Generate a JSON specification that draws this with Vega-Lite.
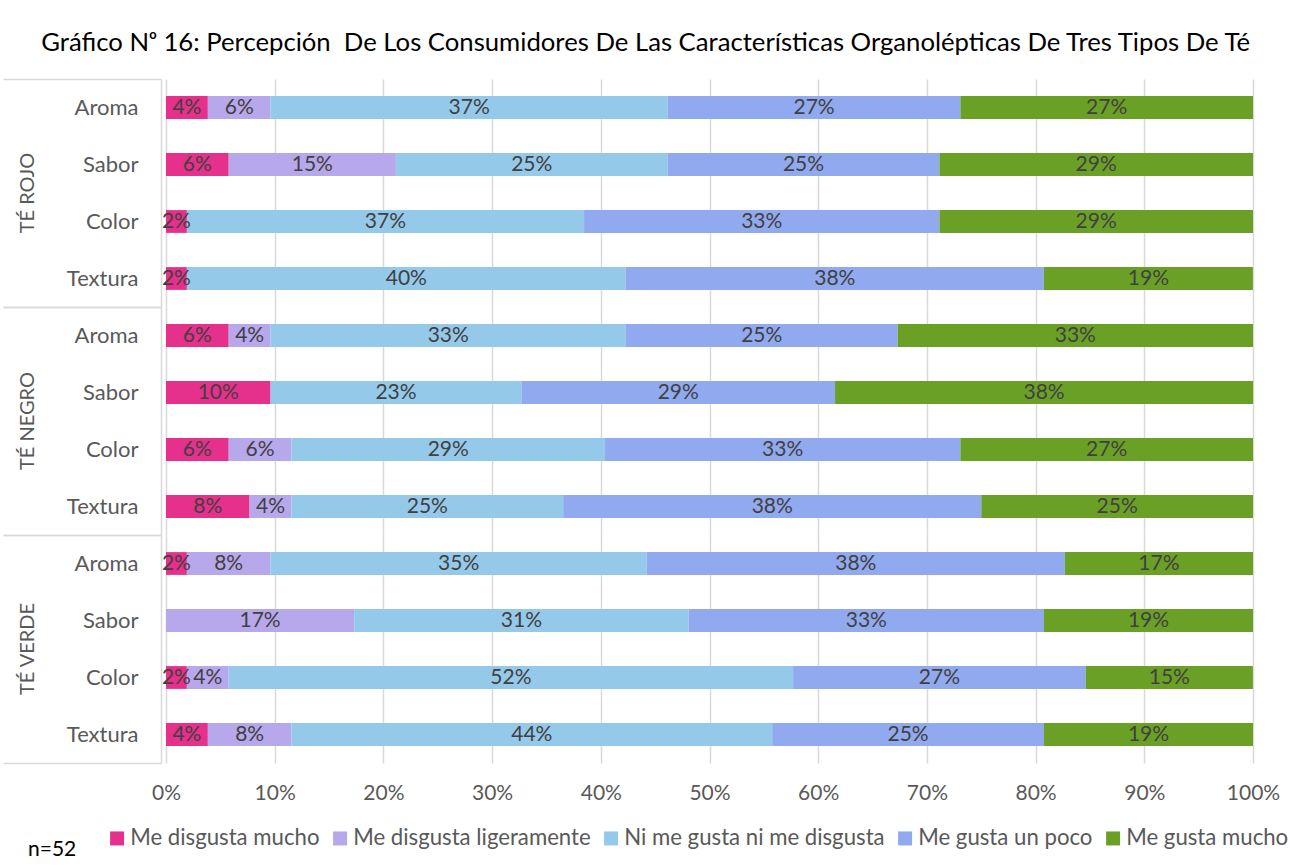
{
  "$schema": "https://vega.github.io/schema/vega-lite/v6.json",
  "background": "white",
  "padding": {"left": 2, "top": 30, "right": 2, "bottom": 2},
  "config": {"font": "Lato", "view": {"stroke": null}},
  "title": {
    "text": "Gráfico Nᵒ 16: Percepción\u00a0 De Los Consumidores De Las Características Organolépticas De Tres Tipos De Té",
    "fontSize": 25.7, "fontWeight": "normal", "color": "#000000", "anchor": "middle", "frame": "bounds", "offset": 11
  },
  "data": {"values": [
    {"t": "TÉ ROJO", "a": "Aroma", "r": "Me disgusta mucho", "o": 1, "p": 0.0385},
    {"t": "TÉ ROJO", "a": "Aroma", "r": "Me disgusta ligeramente", "o": 2, "p": 0.0577},
    {"t": "TÉ ROJO", "a": "Aroma", "r": "Ni me gusta ni me disgusta", "o": 3, "p": 0.3654},
    {"t": "TÉ ROJO", "a": "Aroma", "r": "Me gusta un poco", "o": 4, "p": 0.2692},
    {"t": "TÉ ROJO", "a": "Aroma", "r": "Me gusta mucho", "o": 5, "p": 0.2692},
    {"t": "TÉ ROJO", "a": "Sabor", "r": "Me disgusta mucho", "o": 1, "p": 0.0577},
    {"t": "TÉ ROJO", "a": "Sabor", "r": "Me disgusta ligeramente", "o": 2, "p": 0.1538},
    {"t": "TÉ ROJO", "a": "Sabor", "r": "Ni me gusta ni me disgusta", "o": 3, "p": 0.25},
    {"t": "TÉ ROJO", "a": "Sabor", "r": "Me gusta un poco", "o": 4, "p": 0.25},
    {"t": "TÉ ROJO", "a": "Sabor", "r": "Me gusta mucho", "o": 5, "p": 0.2885},
    {"t": "TÉ ROJO", "a": "Color", "r": "Me disgusta mucho", "o": 1, "p": 0.0192},
    {"t": "TÉ ROJO", "a": "Color", "r": "Ni me gusta ni me disgusta", "o": 3, "p": 0.3654},
    {"t": "TÉ ROJO", "a": "Color", "r": "Me gusta un poco", "o": 4, "p": 0.3269},
    {"t": "TÉ ROJO", "a": "Color", "r": "Me gusta mucho", "o": 5, "p": 0.2885},
    {"t": "TÉ ROJO", "a": "Textura", "r": "Me disgusta mucho", "o": 1, "p": 0.0192},
    {"t": "TÉ ROJO", "a": "Textura", "r": "Ni me gusta ni me disgusta", "o": 3, "p": 0.4038},
    {"t": "TÉ ROJO", "a": "Textura", "r": "Me gusta un poco", "o": 4, "p": 0.3846},
    {"t": "TÉ ROJO", "a": "Textura", "r": "Me gusta mucho", "o": 5, "p": 0.1923},
    {"t": "TÉ NEGRO", "a": "Aroma", "r": "Me disgusta mucho", "o": 1, "p": 0.0577},
    {"t": "TÉ NEGRO", "a": "Aroma", "r": "Me disgusta ligeramente", "o": 2, "p": 0.0385},
    {"t": "TÉ NEGRO", "a": "Aroma", "r": "Ni me gusta ni me disgusta", "o": 3, "p": 0.3269},
    {"t": "TÉ NEGRO", "a": "Aroma", "r": "Me gusta un poco", "o": 4, "p": 0.25},
    {"t": "TÉ NEGRO", "a": "Aroma", "r": "Me gusta mucho", "o": 5, "p": 0.3269},
    {"t": "TÉ NEGRO", "a": "Sabor", "r": "Me disgusta mucho", "o": 1, "p": 0.0962},
    {"t": "TÉ NEGRO", "a": "Sabor", "r": "Ni me gusta ni me disgusta", "o": 3, "p": 0.2308},
    {"t": "TÉ NEGRO", "a": "Sabor", "r": "Me gusta un poco", "o": 4, "p": 0.2885},
    {"t": "TÉ NEGRO", "a": "Sabor", "r": "Me gusta mucho", "o": 5, "p": 0.3846},
    {"t": "TÉ NEGRO", "a": "Color", "r": "Me disgusta mucho", "o": 1, "p": 0.0577},
    {"t": "TÉ NEGRO", "a": "Color", "r": "Me disgusta ligeramente", "o": 2, "p": 0.0577},
    {"t": "TÉ NEGRO", "a": "Color", "r": "Ni me gusta ni me disgusta", "o": 3, "p": 0.2885},
    {"t": "TÉ NEGRO", "a": "Color", "r": "Me gusta un poco", "o": 4, "p": 0.3269},
    {"t": "TÉ NEGRO", "a": "Color", "r": "Me gusta mucho", "o": 5, "p": 0.2692},
    {"t": "TÉ NEGRO", "a": "Textura", "r": "Me disgusta mucho", "o": 1, "p": 0.0769},
    {"t": "TÉ NEGRO", "a": "Textura", "r": "Me disgusta ligeramente", "o": 2, "p": 0.0385},
    {"t": "TÉ NEGRO", "a": "Textura", "r": "Ni me gusta ni me disgusta", "o": 3, "p": 0.25},
    {"t": "TÉ NEGRO", "a": "Textura", "r": "Me gusta un poco", "o": 4, "p": 0.3846},
    {"t": "TÉ NEGRO", "a": "Textura", "r": "Me gusta mucho", "o": 5, "p": 0.25},
    {"t": "TÉ VERDE", "a": "Aroma", "r": "Me disgusta mucho", "o": 1, "p": 0.0192},
    {"t": "TÉ VERDE", "a": "Aroma", "r": "Me disgusta ligeramente", "o": 2, "p": 0.0769},
    {"t": "TÉ VERDE", "a": "Aroma", "r": "Ni me gusta ni me disgusta", "o": 3, "p": 0.3462},
    {"t": "TÉ VERDE", "a": "Aroma", "r": "Me gusta un poco", "o": 4, "p": 0.3846},
    {"t": "TÉ VERDE", "a": "Aroma", "r": "Me gusta mucho", "o": 5, "p": 0.1731},
    {"t": "TÉ VERDE", "a": "Sabor", "r": "Me disgusta ligeramente", "o": 2, "p": 0.1731},
    {"t": "TÉ VERDE", "a": "Sabor", "r": "Ni me gusta ni me disgusta", "o": 3, "p": 0.3077},
    {"t": "TÉ VERDE", "a": "Sabor", "r": "Me gusta un poco", "o": 4, "p": 0.3269},
    {"t": "TÉ VERDE", "a": "Sabor", "r": "Me gusta mucho", "o": 5, "p": 0.1923},
    {"t": "TÉ VERDE", "a": "Color", "r": "Me disgusta mucho", "o": 1, "p": 0.0192},
    {"t": "TÉ VERDE", "a": "Color", "r": "Me disgusta ligeramente", "o": 2, "p": 0.0385},
    {"t": "TÉ VERDE", "a": "Color", "r": "Ni me gusta ni me disgusta", "o": 3, "p": 0.5192},
    {"t": "TÉ VERDE", "a": "Color", "r": "Me gusta un poco", "o": 4, "p": 0.2692},
    {"t": "TÉ VERDE", "a": "Color", "r": "Me gusta mucho", "o": 5, "p": 0.1538},
    {"t": "TÉ VERDE", "a": "Textura", "r": "Me disgusta mucho", "o": 1, "p": 0.0385},
    {"t": "TÉ VERDE", "a": "Textura", "r": "Me disgusta ligeramente", "o": 2, "p": 0.0769},
    {"t": "TÉ VERDE", "a": "Textura", "r": "Ni me gusta ni me disgusta", "o": 3, "p": 0.4423},
    {"t": "TÉ VERDE", "a": "Textura", "r": "Me gusta un poco", "o": 4, "p": 0.25},
    {"t": "TÉ VERDE", "a": "Textura", "r": "Me gusta mucho", "o": 5, "p": 0.1923}
  ]},
  "spacing": {"row": 0},
  "facet": {
    "row": {
      "field": "t", "type": "nominal", "sort": ["TÉ ROJO", "TÉ NEGRO", "TÉ VERDE"], "title": null,
      "header": {"labelAngle": -90, "labelOrient": "left", "labelFontSize": 20, "labelColor": "#595959", "labelPadding": -46}
    }
  },
  "spec": {
    "width": 1087,
    "height": 228,
    "encoding": {
      "y": {
        "field": "a", "type": "nominal", "sort": ["Aroma", "Sabor", "Color", "Textura"],
        "scale": {"paddingInner": 0, "paddingOuter": 0},
        "axis": {
          "title": null, "labelFontSize": 22, "labelColor": "#595959",
          "labelExpr": "datum.value === 'Textura' ? 'Textura\u00a0\u00a0' : datum.value",
          "domainColor": "#D9D9D9", "domainWidth": 1.5,
          "tickColor": "#D9D9D9", "tickWidth": 1.5, "tickBand": "extent", "tickSize": 158,
          "tickOpacity": {"condition": {"test": "datum.value === 'Textura' || !!datum.extra", "value": 1}, "value": 0},
          "labelPadding": -135
        }
      }
    },
    "layer": [
      {
        "mark": {"type": "bar", "height": {"band": 0.4}},
        "encoding": {
          "x": {
            "field": "p", "type": "quantitative", "stack": "zero",
            "scale": {"domain": [0, 1]},
            "axis": {
              "title": null, "format": ".0%", "values": [0, 0.1, 0.2, 0.3, 0.4, 0.5, 0.6, 0.7, 0.8, 0.9, 1],
              "labelFontSize": 21, "labelColor": "#595959", "gridColor": "#D9D9D9", "gridWidth": 1.5,
              "domain": false, "ticks": false, "labelPadding": 19, "labelFlush": false
            }
          },
          "color": {
            "field": "r", "type": "nominal",
            "scale": {
              "domain": ["Me disgusta mucho", "Me disgusta ligeramente", "Ni me gusta ni me disgusta", "Me gusta un poco", "Me gusta mucho"],
              "range": ["#E5308C", "#B7A7EB", "#95C9EA", "#91A9EE", "#6BA027"]
            },
            "legend": {
              "title": "n=52", "titleOrient": "left", "titleFontSize": 21, "titleColor": "#000000", "titleFontWeight": "normal",
              "titlePadding": 29, "titleAnchor": "end", "titleBaseline": "middle",
              "orient": "none", "legendX": -138, "legendY": 748, "direction": "horizontal",
              "labelFontSize": 22.2, "labelColor": "#595959", "labelOffset": 2, "columnPadding": 9, "labelLimit": 500,
              "symbolType": "square", "symbolSize": 196, "symbolStrokeWidth": 0
            }
          },
          "order": {"field": "o", "type": "quantitative"}
        }
      },
      {
        "mark": {"type": "text", "fontSize": 21, "color": "#404040"},
        "encoding": {
          "x": {"field": "p", "type": "quantitative", "stack": "zero", "bandPosition": 0.5},
          "detail": {"field": "r", "type": "nominal"},
          "order": {"field": "o", "type": "quantitative"},
          "text": {"field": "p", "type": "quantitative", "format": ".0%"}
        }
      }
    ]
  }
}
